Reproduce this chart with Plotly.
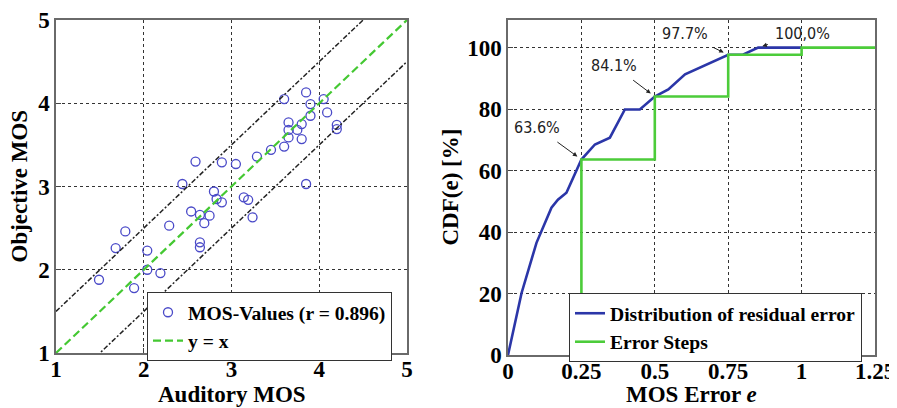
import plotly.graph_objects as go

# ---------------- data ----------------
auditory_mos = [3.85, 3.60, 4.05, 3.90, 4.09, 3.90, 3.65, 3.80, 4.20, 4.20, 3.65, 3.75,
                3.65, 3.80, 3.45, 3.60, 3.85, 2.59, 2.89, 3.05, 3.29, 2.44, 2.80, 2.83,
                2.89, 3.14, 3.19, 2.54, 2.64, 2.75, 2.69, 3.24, 2.29, 2.64, 2.64, 1.79,
                1.68, 2.04, 2.04, 2.19, 1.49, 1.89]
objective_mos = [4.13, 4.05, 4.05, 3.99, 3.89, 3.85, 3.77, 3.75, 3.74, 3.69, 3.68, 3.68,
                 3.59, 3.57, 3.44, 3.48, 3.03, 3.30, 3.29, 3.27, 3.36, 3.03, 2.94, 2.85,
                 2.81, 2.87, 2.84, 2.70, 2.66, 2.65, 2.56, 2.63, 2.53, 2.33, 2.27, 2.46,
                 2.26, 2.23, 2.00, 1.96, 1.88, 1.78]
diag_x = [1, 5]
band = 0.5

err_e = [0.0, 0.046, 0.097, 0.148, 0.17, 0.199, 0.25, 0.296, 0.347, 0.398, 0.449, 0.5,
         0.546, 0.603, 0.75, 0.80, 0.852, 1.0]
cdf_e = [0.0, 20.1, 36.5, 47.9, 50.5, 52.8, 63.6, 68.5, 70.7, 79.9, 79.9, 84.1,
         86.4, 91.3, 97.7, 97.7, 100.0, 100.0]
step_x = [0.25, 0.25, 0.5, 0.75, 1.0, 1.25]
step_y = [0.0, 63.6, 84.1, 97.7, 100.0, 100.0]

# (x, y, label, ax, ay) annotation labels
marks = [(0.25, 63.6, "63.6%", -44, -32),
         (0.5, 84.1, "84.1%", -41, -31),
         (0.75, 97.7, "97.7%", -43, -21),
         (0.85, 100.0, "100,0%", 45, -14)]

x_ticks_left = [1, 2, 3, 4, 5]
x_ticks_right = [0, 0.25, 0.5, 0.75, 1, 1.25]
x_ticktext_right = ["0", "0.25", "0.5", "0.75", "1", "1.25"]
y_ticks_right = [0, 20, 40, 60, 80, 100]

# ---------------- styles ----------------
SERIF = "Liberation Serif"
NARROW = "DejaVu Sans Condensed"
tickfont = dict(family=SERIF, size=23, color="black", weight="bold")
titlefont = dict(family=SERIF, size=23, color="black", weight="bold")
legfont = dict(family=SERIF, size=19.6, color="black", weight="bold")

fig = go.Figure()

fig.add_trace(go.Scatter(
    x=auditory_mos, y=objective_mos, mode="markers", name="MOS-Values (r = 0.896)",
    marker=dict(symbol="circle-open", size=9, color="#4a4ac8", line=dict(width=1.3)),
    xaxis="x", yaxis="y", legend="legend"))
fig.add_trace(go.Scatter(
    x=diag_x, y=[v + band for v in diag_x], mode="lines", showlegend=False,
    line=dict(color="#222222", width=1.5, dash="5px,2px,2px,2px"),
    xaxis="x", yaxis="y"))
fig.add_trace(go.Scatter(
    x=diag_x, y=[v - band for v in diag_x], mode="lines", showlegend=False,
    line=dict(color="#222222", width=1.5, dash="5px,2px,2px,2px"),
    xaxis="x", yaxis="y"))
fig.add_trace(go.Scatter(
    x=diag_x, y=diag_x, mode="lines", name="y = x",
    line=dict(color="#44c832", width=2.2, dash="8px,4px"),
    xaxis="x", yaxis="y", legend="legend"))

fig.add_trace(go.Scatter(
    x=err_e, y=cdf_e, mode="lines", name="Distribution of residual error",
    line=dict(color="#2b36a8", width=2.6),
    xaxis="x2", yaxis="y2", legend="legend2"))
fig.add_trace(go.Scatter(
    x=step_x, y=step_y, mode="lines", name="Error Steps", line_shape="hv",
    line=dict(color="#4ccc3a", width=2.6),
    xaxis="x2", yaxis="y2", legend="legend2"))

# the page body adds an 8px margin, so the figure is 8px smaller than the window
W, H = 889, 400
OFF = 8
L1, R1, T1, B1 = 56 - OFF, 407 - OFF, 20 - OFF, 353 - OFF
L2, R2, T2, B2 = 508 - OFF, 875 - OFF, 20 - OFF, 355 - OFF
axis_common = dict(showline=True, mirror=True, linecolor="#6a6a6a", linewidth=1.5,
                   ticks="inside", ticklen=5, tickcolor="#444", showgrid=True,
                   gridcolor="#333333", griddash="dot", gridwidth=1, zeroline=False,
                   tickfont=tickfont, automargin=False)

fig.update_layout(
    width=W, height=H, margin=dict(l=0, r=0, t=0, b=0, autoexpand=False),
    paper_bgcolor="white", plot_bgcolor="white", showlegend=True,
    xaxis=dict(domain=[L1 / W, R1 / W], range=[1, 5], tickvals=x_ticks_left,
               anchor="y", ticklabelstandoff=-5, **axis_common),
    yaxis=dict(domain=[1 - B1 / H, 1 - T1 / H], range=[1, 5], tickvals=x_ticks_left,
               anchor="x", **axis_common),
    xaxis2=dict(domain=[L2 / W, R2 / W], range=[0, 1.25], tickvals=x_ticks_right,
                ticktext=x_ticktext_right, anchor="y2", ticklabelstandoff=-5,
                **axis_common),
    yaxis2=dict(domain=[1 - B2 / H, 1 - T2 / H], range=[0, 109], tickvals=y_ticks_right,
                anchor="x2", **axis_common),
    legend=dict(x=(147 - OFF) / W, y=1 - (292 - OFF) / H, xanchor="left", yanchor="top",
                bgcolor="white", bordercolor="#333", borderwidth=1,
                font=legfont, tracegroupgap=0),
    legend2=dict(x=(569 - OFF) / W, y=1 - (293 - OFF) / H, xanchor="left", yanchor="top",
                 bgcolor="white", bordercolor="#333", borderwidth=1,
                 font=legfont, tracegroupgap=0),
)

# axis titles
fig.add_annotation(text="Auditory MOS", xref="paper", yref="paper",
                   x=(L1 + R1) / 2 / W, y=0, xanchor="center", yanchor="bottom",
                   showarrow=False, font=titlefont, borderpad=0)
fig.add_annotation(text="MOS Error <i>e</i>", xref="paper", yref="paper",
                   x=(L2 + R2) / 2 / W, y=0, xanchor="center", yanchor="bottom",
                   showarrow=False, font=titlefont, borderpad=0)
fig.add_annotation(text="Objective MOS", xref="paper", yref="paper",
                   x=(19 - OFF) / W, y=1 - (T1 + B1) / 2 / H, xanchor="center",
                   yanchor="middle", textangle=-90, showarrow=False, font=titlefont)
fig.add_annotation(text="CDF(e) [%]", xref="paper", yref="paper",
                   x=(450 - OFF) / W, y=1 - (T2 + B2) / 2 / H, xanchor="center",
                   yanchor="middle", textangle=-90, showarrow=False, font=titlefont)

for (mx, my, label, ax, ay) in marks:
    fig.add_annotation(x=mx, y=my, xref="x2", yref="y2", text=label, showarrow=True,
                       ax=ax, ay=ay, arrowhead=2, arrowsize=0.9, arrowwidth=1,
                       arrowcolor="#222", standoff=5, startstandoff=6,
                       font=dict(family=NARROW, size=16, color="#222"))

fig.write_html("out.html")
